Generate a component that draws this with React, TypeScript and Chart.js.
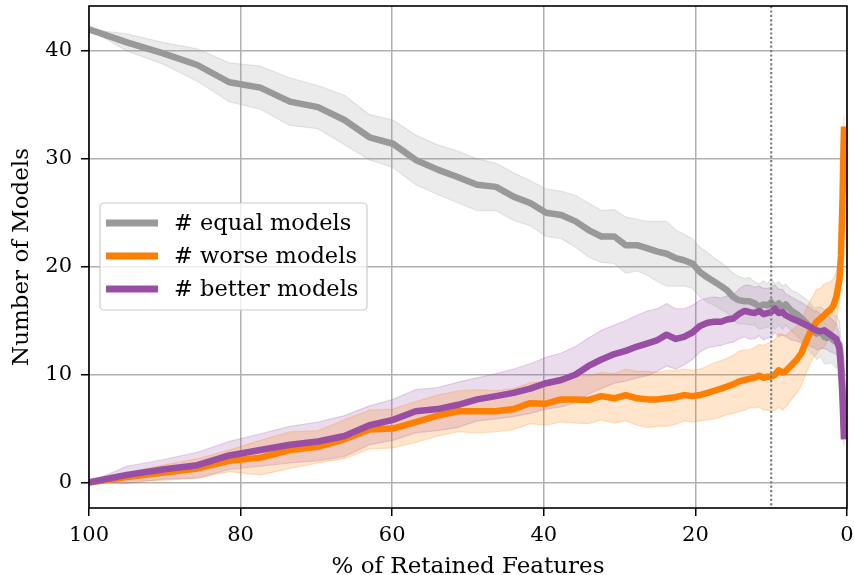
import React, { useEffect, useRef } from 'react';
import { Chart, registerables } from 'chart.js';

Chart.register(...registerables);

const retained = [
  100, 95, 90.3, 85.7, 81.5, 77.4, 73.5, 69.8, 66.3, 63.0,
  59.9, 56.9, 54.0, 51.3, 48.8, 46.3, 44.0, 41.8, 39.7, 37.7,
  35.8, 34.1, 32.4, 30.7, 29.2, 27.7, 26.3, 25.0, 23.8, 22.6,
  21.5, 20.4, 19.4, 18.4, 17.5, 16.6, 15.8, 15.0, 14.3, 13.5,
  12.9, 12.2, 11.6, 11.0, 10.5, 10.0, 9.5, 9.0, 8.5, 8.1,
  7.3, 6.6, 6.0, 5.4, 4.8, 4.4, 4.0, 3.5, 3.0, 2.6,
  2.2, 1.8, 1.4, 1.0, 0.8, 0.6, 0.4,
];

const equalMean = [
  42.0, 40.8, 39.8, 38.7, 37.1, 36.6, 35.3, 34.8, 33.6, 32.0,
  31.4, 29.9, 29.0, 28.3, 27.6, 27.4, 26.5, 25.9, 25.0, 24.8,
  24.2, 23.4, 22.8, 22.8, 22.0, 22.0, 21.7, 21.4, 21.2, 20.8,
  20.6, 20.3, 19.5, 19.0, 18.6, 18.2, 17.8, 17.2, 16.9, 16.8,
  16.8, 16.6, 16.3, 16.5, 16.4, 16.7, 16.3, 16.6, 16.2, 16.5,
  15.9, 15.6, 15.2, 14.8, 14.3, 14.0, 13.8, 14.0, 13.5, 13.4,
  13.6, 13.2, 13.0, 12.8, 11.5, 9.0, 5.0,
];
const equalStd = [
  0.0, 0.8, 1.0, 1.5, 1.8, 2.0, 2.2, 2.0, 2.3, 2.1,
  2.2, 2.3, 2.3, 2.4, 2.4, 2.2, 2.2, 2.1, 2.2, 2.2,
  2.4, 2.5, 2.4, 2.5, 2.6, 2.4, 2.5, 2.8, 3.0, 2.6,
  2.4, 2.3, 2.3, 2.3, 2.2, 2.2, 2.1, 2.2, 2.2, 2.1,
  2.2, 2.0, 2.1, 2.2, 2.0, 2.2, 2.1, 2.0, 2.0, 1.9,
  1.9, 2.0, 2.1, 2.2, 2.3, 2.2, 2.4, 2.3, 2.5, 2.4,
  2.5, 2.3, 2.4, 2.2, 1.8, 1.4, 1.0,
];

const worseMean = [
  0.0, 0.5, 0.9, 1.3, 2.0, 2.3, 3.0, 3.3, 4.0, 4.9,
  5.0, 5.6, 6.2, 6.6, 6.6, 6.6, 6.8, 7.35, 7.3, 7.7,
  7.7, 7.65, 8.0, 7.8, 8.1, 7.8, 7.7, 7.7, 7.8, 7.9,
  8.1, 8.0, 8.1, 8.3, 8.5, 8.7, 8.9, 9.1, 9.35, 9.5,
  9.6, 9.7, 9.9, 9.7, 9.8, 9.8, 10.0, 10.4, 10.2, 10.3,
  10.9, 11.4, 12.0, 13.1, 14.0, 14.5, 14.9, 15.2, 15.5, 15.8,
  16.0, 16.4, 17.2, 18.8, 21.0, 26.0, 33.0,
];
const worseStd = [
  0.0, 0.4, 0.7, 0.9, 1.0, 1.6, 1.7, 1.5, 1.8, 1.8,
  1.8, 1.9, 1.9, 1.9, 2.0, 1.9, 1.9, 1.9, 2.0, 2.1,
  2.2, 2.2, 2.2, 2.3, 2.4, 2.5, 2.6, 2.5, 2.6, 2.5,
  2.4, 2.4, 2.4, 2.5, 2.6, 2.6, 2.6, 2.7, 2.8, 2.8,
  2.7, 2.8, 2.9, 3.0, 3.1, 3.2, 3.3, 3.4, 3.5, 3.3,
  3.2, 3.1, 3.0, 3.0, 2.9, 2.9, 3.0, 2.8, 2.9, 2.7,
  2.6, 2.5, 2.3, 2.1, 1.8, 1.4, 1.0,
];

const betterMean = [
  0.0, 0.7, 1.2, 1.6, 2.5, 3.0, 3.5, 3.8, 4.3, 5.3,
  5.8, 6.6, 6.8, 7.2, 7.7, 8.0, 8.3, 8.7, 9.2, 9.5,
  10.0, 10.8, 11.4, 11.9, 12.2, 12.6, 12.9, 13.2, 13.7, 13.3,
  13.5, 13.9, 14.5, 14.8, 14.9, 14.9, 15.1, 15.2, 15.6, 15.9,
  15.8, 15.7, 15.9, 15.6, 15.7, 15.8, 16.1, 15.7, 15.8, 15.5,
  15.2, 15.0, 14.8, 14.6, 14.4, 14.2, 14.1, 14.0, 14.1, 13.9,
  13.7, 13.5, 13.3, 12.4, 10.5, 8.0, 4.0,
];
const betterStd = [
  0.0, 0.8, 0.9, 1.2, 1.3, 1.5, 1.7, 1.8, 1.9, 1.8,
  1.9, 2.0, 2.0, 2.1, 2.0, 2.1, 2.2, 2.3, 2.4, 2.5,
  2.6, 2.6, 2.7, 2.7, 2.8, 2.9, 3.0, 2.9, 2.9, 2.8,
  2.6, 2.5, 2.4, 2.3, 2.3, 2.2, 2.2, 2.2, 2.3, 2.4,
  2.5, 2.4, 2.3, 2.4, 2.3, 2.3, 2.2, 2.2, 2.1, 2.0,
  2.0, 1.9, 1.9, 1.8, 1.8, 1.7, 1.8, 1.6, 1.7, 1.6,
  1.6, 1.5, 1.4, 1.3, 1.1, 0.9, 0.6,
];

const xTicks = [100, 80, 60, 40, 20, 0];
const yTicks = [0, 10, 20, 30, 40];
const cutoff = 10;
const seriesLabels = ['# equal models', '# worse models', '# better models'];
const seriesColors = ['#999999', '#ff7f00', '#984ea3'];

const FONT = "'DejaVu Serif', 'Liberation Serif', serif";

function rgba(hex: string, a: number) {
  const n = parseInt(hex.slice(1), 16);
  return `rgba(${(n >> 16) & 255},${(n >> 8) & 255},${n & 255},${a})`;
}

function pts(ys: number[]) {
  return retained.map((x, i) => ({ x, y: ys[i] }));
}
function band(mean: number[], sd: number[], sign: number) {
  return retained.map((x, i) => ({ x, y: mean[i] + sign * sd[i] }));
}

function zeroPad(scale: any) {
  scale.paddingTop = 0;
  scale.paddingBottom = 0;
  scale.paddingLeft = 0;
  scale.paddingRight = 0;
}

export default function App() {
  const ref = useRef<HTMLCanvasElement | null>(null);

  useEffect(() => {
    const canvas = ref.current;
    if (!canvas) return;
    document.body.style.margin = '0';

    const lineDs = (label: string, data: any, color: string) => ({
      label,
      data,
      borderColor: color,
      backgroundColor: color,
      borderWidth: 6.5,
      pointRadius: 0,
      fill: false,
      tension: 0,
      borderJoinStyle: 'round' as const,
      borderCapStyle: 'butt' as const,
    });
    const hiDs = (data: any, color: string) => ({
      label: '_band_hi',
      data,
      borderColor: rgba(color, 0.22),
      borderWidth: 1.2,
      pointRadius: 0,
      fill: false,
      tension: 0,
    });
    const loDs = (data: any, color: string) => ({
      label: '_band_lo',
      data,
      borderColor: rgba(color, 0.22),
      backgroundColor: rgba(color, 0.2),
      borderWidth: 1.2,
      pointRadius: 0,
      fill: '-1',
      tension: 0,
    });

    const datasets: any[] = [
      lineDs(seriesLabels[2], pts(betterMean), seriesColors[2]),
      lineDs(seriesLabels[1], pts(worseMean), seriesColors[1]),
      lineDs(seriesLabels[0], pts(equalMean), seriesColors[0]),
      hiDs(band(equalMean, equalStd, 1), seriesColors[0]),
      loDs(band(equalMean, equalStd, -1), seriesColors[0]),
      hiDs(band(worseMean, worseStd, 1), seriesColors[1]),
      loDs(band(worseMean, worseStd, -1), seriesColors[1]),
      hiDs(band(betterMean, betterStd, 1), seriesColors[2]),
      loDs(band(betterMean, betterStd, -1), seriesColors[2]),
    ];

    const decor = {
      id: 'decor',
      afterDatasetsDraw(chart: any) {
        const { ctx, chartArea: ca, scales } = chart;
        // dotted cutoff line
        const xc = scales.x.getPixelForValue(cutoff);
        ctx.save();
        ctx.strokeStyle = '#7f7f7f';
        ctx.lineWidth = 2.2;
        ctx.setLineDash([2.2, 2.2]);
        ctx.beginPath();
        ctx.moveTo(xc, ca.top);
        ctx.lineTo(xc, ca.bottom);
        ctx.stroke();
        ctx.restore();
        // spines
        ctx.save();
        ctx.strokeStyle = '#000';
        ctx.lineWidth = 1.6;
        ctx.strokeRect(ca.left, ca.top, ca.right - ca.left, ca.bottom - ca.top);
        ctx.restore();
        // legend
        const bx = ca.left + 11;
        const by = ca.top + 197;
        const bw = 267;
        const bh = 107;
        ctx.save();
        ctx.beginPath();
        const r = 4;
        ctx.moveTo(bx + r, by);
        ctx.lineTo(bx + bw - r, by);
        ctx.arcTo(bx + bw, by, bx + bw, by + r, r);
        ctx.lineTo(bx + bw, by + bh - r);
        ctx.arcTo(bx + bw, by + bh, bx + bw - r, by + bh, r);
        ctx.lineTo(bx + r, by + bh);
        ctx.arcTo(bx, by + bh, bx, by + bh - r, r);
        ctx.lineTo(bx, by + r);
        ctx.arcTo(bx, by, bx + r, by, r);
        ctx.closePath();
        ctx.fillStyle = 'rgba(255,255,255,0.8)';
        ctx.fill();
        ctx.strokeStyle = '#cccccc';
        ctx.lineWidth = 1.2;
        ctx.stroke();
        ctx.font = `22.5px ${FONT}`;
        ctx.textBaseline = 'middle';
        ctx.textAlign = 'left';
        seriesLabels.forEach((lab, i) => {
          const y = by + 20 + i * 33;
          ctx.strokeStyle = seriesColors[i];
          ctx.lineWidth = 7;
          ctx.beginPath();
          ctx.moveTo(bx + 6, y);
          ctx.lineTo(bx + 58, y);
          ctx.stroke();
          ctx.fillStyle = '#000';
          ctx.fillText(lab, bx + 74, y + 1);
        });
        ctx.restore();
      },
    };

    const chart = new Chart(canvas, {
      type: 'line',
      data: { datasets },
      options: {
        animation: false,
        responsive: false,
        devicePixelRatio: 1,
        layout: { autoPadding: false, padding: { top: 6, right: 7, left: 0, bottom: 0 } },
        plugins: {
          legend: { display: false },
          tooltip: { enabled: false },
          filler: { propagate: false },
        },
        scales: {
          x: {
            type: 'linear',
            reverse: true,
            min: 0,
            max: 100,
            afterFit(scale: any) {
              scale.height = 67;
              zeroPad(scale);
            },
            afterBuildTicks(scale: any) {
              scale.ticks = xTicks.map((v) => ({ value: v }));
            },
            ticks: {
              color: '#000',
              font: { family: FONT, size: 21 },
              padding: 7,
              maxRotation: 0,
            },
            grid: {
              color: '#b0b0b0',
              lineWidth: 1.5,
              tickColor: '#000',
              tickLength: 8,
              tickWidth: 1.5,
            },
            border: { display: false },
            title: {
              display: true,
              text: '% of Retained Features',
              color: '#000',
              font: { family: FONT, size: 23, lineHeight: 1 },
              padding: { top: 0, bottom: -4 },
            },
          },
          y: {
            type: 'linear',
            min: -2.37,
            max: 44.17,
            afterFit(scale: any) {
              scale.width = 89;
              zeroPad(scale);
            },
            afterBuildTicks(scale: any) {
              scale.ticks = yTicks.map((v) => ({ value: v }));
            },
            ticks: {
              color: '#000',
              font: { family: FONT, size: 21 },
              padding: 9,
            },
            grid: {
              color: '#b0b0b0',
              lineWidth: 1.5,
              tickColor: '#000',
              tickLength: 8,
              tickWidth: 1.5,
            },
            border: { display: false },
            title: {
              display: true,
              text: 'Number of Models',
              color: '#000',
              font: { family: FONT, size: 23, lineHeight: 1 },
              padding: { top: 11, bottom: 0 },
            },
          },
        },
      },
      plugins: [decor],
    });

    return () => chart.destroy();
  }, []);

  return (
    <div style={{ position: 'absolute', left: 0, top: 0, width: 854, height: 575 }}>
      <canvas ref={ref} width={854} height={575} />
    </div>
  );
}
